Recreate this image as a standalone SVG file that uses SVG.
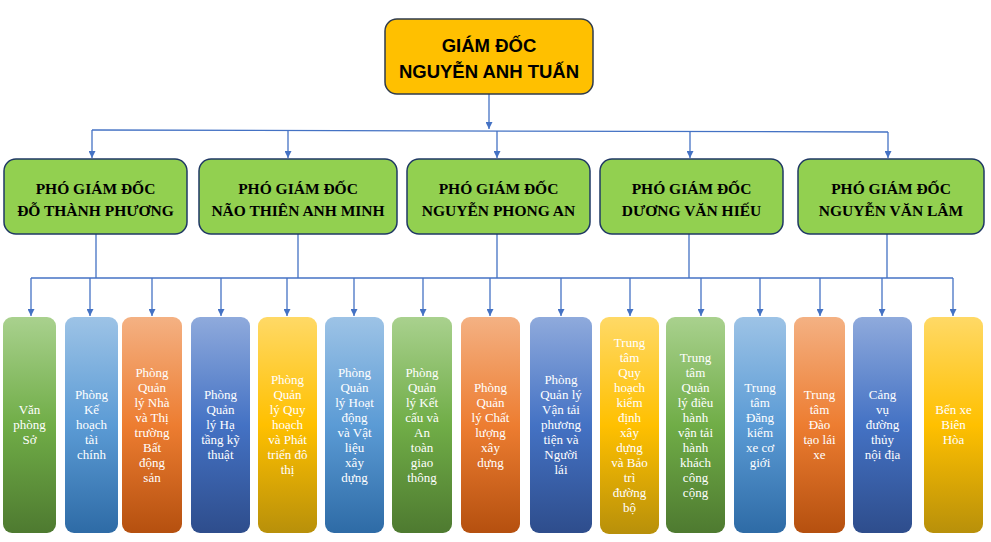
<svg xmlns="http://www.w3.org/2000/svg" width="991" height="542" viewBox="0 0 991 542">
<style>
.conn{stroke:#4472C4;stroke-width:1.3;fill:none}
.arr{marker-end:url(#ah)}
.dir{fill:#FFC000;stroke:#2F3B4C;stroke-width:1.5}
.dirt{font-family:"Liberation Sans",Arial,sans-serif;font-weight:bold;font-size:18.5px;fill:#000;text-anchor:middle}
.dep{fill:#92D050;stroke:#1F3864;stroke-width:1.5}
.dept{font-family:"Liberation Serif","Times New Roman",serif;font-weight:bold;font-size:15.5px;fill:#000;text-anchor:middle}
.unit{font-family:"Liberation Serif","Times New Roman",serif;font-size:13px;fill:#fff;text-anchor:middle}
</style>
<defs>
<marker id="ah" viewBox="0 0 10 10" refX="10" refY="5" markerWidth="7" markerHeight="7" markerUnits="userSpaceOnUse" orient="auto">
<path d="M0,0 L10,5 L0,10 z" fill="#4472C4"/>
</marker>
<linearGradient id="gG" x1="0" y1="0" x2="0" y2="1"><stop offset="0" stop-color="#A9D18E"/><stop offset="0.5" stop-color="#70AD47"/><stop offset="1" stop-color="#4E7A30"/></linearGradient>
<linearGradient id="gL" x1="0" y1="0" x2="0" y2="1"><stop offset="0" stop-color="#9DC3E6"/><stop offset="0.5" stop-color="#5B9BD5"/><stop offset="1" stop-color="#2E6BA6"/></linearGradient>
<linearGradient id="gO" x1="0" y1="0" x2="0" y2="1"><stop offset="0" stop-color="#F4B183"/><stop offset="0.5" stop-color="#ED7D31"/><stop offset="1" stop-color="#B5500F"/></linearGradient>
<linearGradient id="gB" x1="0" y1="0" x2="0" y2="1"><stop offset="0" stop-color="#8FAADC"/><stop offset="0.5" stop-color="#4472C4"/><stop offset="1" stop-color="#2E4D8C"/></linearGradient>
<linearGradient id="gY" x1="0" y1="0" x2="0" y2="1"><stop offset="0" stop-color="#FFD966"/><stop offset="0.5" stop-color="#FFC000"/><stop offset="1" stop-color="#B8900A"/></linearGradient>
</defs>
<rect width="991" height="542" fill="#fff"/>
<g id="connectors">
<path class="conn arr" d="M489,94 V129"/>
<path class="conn" d="M92,130 L888,132"/>
<path class="conn arr" d="M92,130 V158"/>
<path class="conn arr" d="M288,130.5 V158"/>
<path class="conn arr" d="M497,131 V158"/>
<path class="conn arr" d="M690,131.5 V158"/>
<path class="conn arr" d="M888,132 V158"/>
<path class="conn" d="M96,234 V278 M298,234 V278 M497,234 V278 M689,234 V278 M887,234 V278"/>
<path class="conn" d="M31,278 H953"/>
<path class="conn arr" d="M31,278 V316"/>
<path class="conn arr" d="M90,278 V316"/>
<path class="conn arr" d="M152,278 V316"/>
<path class="conn arr" d="M221,278 V316"/>
<path class="conn arr" d="M287,278 V316"/>
<path class="conn arr" d="M354,278 V316"/>
<path class="conn arr" d="M423,278 V316"/>
<path class="conn arr" d="M490,278 V316"/>
<path class="conn arr" d="M561,278 V316"/>
<path class="conn arr" d="M630,278 V316"/>
<path class="conn arr" d="M701,278 V316"/>
<path class="conn arr" d="M760,278 V316"/>
<path class="conn arr" d="M820,278 V316"/>
<path class="conn arr" d="M882,278 V316"/>
<path class="conn arr" d="M953,278 V316"/>
</g>
<g id="director">
<rect class="dir" x="385" y="19" width="208" height="75" rx="12"/>
<text class="dirt" x="489" y="52">GIÁM ĐỐC</text>
<text class="dirt" x="489" y="78">NGUYỄN ANH TUẤN</text>
</g>
<g id="pgd1"><rect class="dep" x="4" y="159" width="183" height="75" rx="12"/><text class="dept" x="95.5" y="194">PHÓ GIÁM ĐỐC</text><text class="dept" x="95.5" y="216">ĐỖ THÀNH PHƯƠNG</text></g>
<g id="pgd2"><rect class="dep" x="199" y="159" width="198" height="75" rx="12"/><text class="dept" x="298" y="194">PHÓ GIÁM ĐỐC</text><text class="dept" x="298" y="216">NÃO THIÊN ANH MINH</text></g>
<g id="pgd3"><rect class="dep" x="407" y="159" width="183" height="75" rx="12"/><text class="dept" x="498.5" y="194">PHÓ GIÁM ĐỐC</text><text class="dept" x="498.5" y="216">NGUYỄN PHONG AN</text></g>
<g id="pgd4"><rect class="dep" x="600" y="159" width="183" height="75" rx="12"/><text class="dept" x="691.5" y="194">PHÓ GIÁM ĐỐC</text><text class="dept" x="691.5" y="216">DƯƠNG VĂN HIẾU</text></g>
<g id="pgd5"><rect class="dep" x="798" y="159" width="186" height="75" rx="12"/><text class="dept" x="891" y="194">PHÓ GIÁM ĐỐC</text><text class="dept" x="891" y="216">NGUYỄN VĂN LÂM</text></g>

<g id="u1"><rect x="3" y="317" width="53" height="216" rx="9" fill="url(#gG)"/><text class="unit" y="414"><tspan x="29.5">Văn</tspan><tspan x="29.5" dy="15">phòng</tspan><tspan x="29.5" dy="15">Sở</tspan></text></g>
<g id="u2"><rect x="65" y="317" width="53" height="216" rx="9" fill="url(#gL)"/><text class="unit" y="399"><tspan x="91.5">Phòng</tspan><tspan x="91.5" dy="15">Kế</tspan><tspan x="91.5" dy="15">hoạch</tspan><tspan x="91.5" dy="15">tài</tspan><tspan x="91.5" dy="15">chính</tspan></text></g>
<g id="u3"><rect x="122" y="317" width="60" height="216" rx="9" fill="url(#gO)"/><text class="unit" y="376.5"><tspan x="152">Phòng</tspan><tspan x="152" dy="15">Quản</tspan><tspan x="152" dy="15">lý Nhà</tspan><tspan x="152" dy="15">và Thị</tspan><tspan x="152" dy="15">trường</tspan><tspan x="152" dy="15">Bất</tspan><tspan x="152" dy="15">động</tspan><tspan x="152" dy="15">sản</tspan></text></g>
<g id="u4"><rect x="191" y="317" width="59" height="216" rx="9" fill="url(#gB)"/><text class="unit" y="399"><tspan x="220.5">Phòng</tspan><tspan x="220.5" dy="15">Quản</tspan><tspan x="220.5" dy="15">lý Hạ</tspan><tspan x="220.5" dy="15">tầng kỹ</tspan><tspan x="220.5" dy="15">thuật</tspan></text></g>
<g id="u5"><rect x="258" y="317" width="59" height="216" rx="9" fill="url(#gY)"/><text class="unit" y="384"><tspan x="287.5">Phòng</tspan><tspan x="287.5" dy="15">Quản</tspan><tspan x="287.5" dy="15">lý Quy</tspan><tspan x="287.5" dy="15">hoạch</tspan><tspan x="287.5" dy="15">và Phát</tspan><tspan x="287.5" dy="15">triển đô</tspan><tspan x="287.5" dy="15">thị</tspan></text></g>
<g id="u6"><rect x="325" y="317" width="59" height="216" rx="9" fill="url(#gL)"/><text class="unit" y="376.5"><tspan x="354.5">Phòng</tspan><tspan x="354.5" dy="15">Quản</tspan><tspan x="354.5" dy="15">lý Hoạt</tspan><tspan x="354.5" dy="15">động</tspan><tspan x="354.5" dy="15">và Vật</tspan><tspan x="354.5" dy="15">liệu</tspan><tspan x="354.5" dy="15">xây</tspan><tspan x="354.5" dy="15">dựng</tspan></text></g>
<g id="u7"><rect x="392" y="317" width="60" height="216" rx="9" fill="url(#gG)"/><text class="unit" y="376.5"><tspan x="422">Phòng</tspan><tspan x="422" dy="15">Quản</tspan><tspan x="422" dy="15">lý Kết</tspan><tspan x="422" dy="15">cấu và</tspan><tspan x="422" dy="15">An</tspan><tspan x="422" dy="15">toàn</tspan><tspan x="422" dy="15">giao</tspan><tspan x="422" dy="15">thông</tspan></text></g>
<g id="u8"><rect x="461" y="317" width="59" height="216" rx="9" fill="url(#gO)"/><text class="unit" y="391.5"><tspan x="490.5">Phòng</tspan><tspan x="490.5" dy="15">Quản</tspan><tspan x="490.5" dy="15">lý Chất</tspan><tspan x="490.5" dy="15">lượng</tspan><tspan x="490.5" dy="15">xây</tspan><tspan x="490.5" dy="15">dựng</tspan></text></g>
<g id="u9"><rect x="530" y="317" width="62" height="216" rx="9" fill="url(#gB)"/><text class="unit" y="384"><tspan x="561">Phòng</tspan><tspan x="561" dy="15">Quản lý</tspan><tspan x="561" dy="15">Vận tải</tspan><tspan x="561" dy="15">phương</tspan><tspan x="561" dy="15">tiện và</tspan><tspan x="561" dy="15">Người</tspan><tspan x="561" dy="15">lái</tspan></text></g>
<g id="u10"><rect x="600" y="317" width="59" height="217" rx="9" fill="url(#gY)"/><text class="unit" y="346.5"><tspan x="629.5">Trung</tspan><tspan x="629.5" dy="15">tâm</tspan><tspan x="629.5" dy="15">Quy</tspan><tspan x="629.5" dy="15">hoạch</tspan><tspan x="629.5" dy="15">kiểm</tspan><tspan x="629.5" dy="15">định</tspan><tspan x="629.5" dy="15">xây</tspan><tspan x="629.5" dy="15">dựng</tspan><tspan x="629.5" dy="15">và Bảo</tspan><tspan x="629.5" dy="15">trì</tspan><tspan x="629.5" dy="15">đường</tspan><tspan x="629.5" dy="15">bộ</tspan></text></g>
<g id="u11"><rect x="666" y="317" width="59" height="216" rx="9" fill="url(#gG)"/><text class="unit" y="361.5"><tspan x="695.5">Trung</tspan><tspan x="695.5" dy="15">tâm</tspan><tspan x="695.5" dy="15">Quản</tspan><tspan x="695.5" dy="15">lý điều</tspan><tspan x="695.5" dy="15">hành</tspan><tspan x="695.5" dy="15">vận tải</tspan><tspan x="695.5" dy="15">hành</tspan><tspan x="695.5" dy="15">khách</tspan><tspan x="695.5" dy="15">công</tspan><tspan x="695.5" dy="15">cộng</tspan></text></g>
<g id="u12"><rect x="734" y="317" width="52" height="216" rx="9" fill="url(#gL)"/><text class="unit" y="391.5"><tspan x="760">Trung</tspan><tspan x="760" dy="15">tâm</tspan><tspan x="760" dy="15">Đăng</tspan><tspan x="760" dy="15">kiểm</tspan><tspan x="760" dy="15">xe cơ</tspan><tspan x="760" dy="15">giới</tspan></text></g>
<g id="u13"><rect x="794" y="317" width="51" height="216" rx="9" fill="url(#gO)"/><text class="unit" y="399"><tspan x="819.5">Trung</tspan><tspan x="819.5" dy="15">tâm</tspan><tspan x="819.5" dy="15">Đào</tspan><tspan x="819.5" dy="15">tạo lái</tspan><tspan x="819.5" dy="15">xe</tspan></text></g>
<g id="u14"><rect x="853" y="317" width="59" height="216" rx="9" fill="url(#gB)"/><text class="unit" y="399"><tspan x="882.5">Cảng</tspan><tspan x="882.5" dy="15">vụ</tspan><tspan x="882.5" dy="15">đường</tspan><tspan x="882.5" dy="15">thủy</tspan><tspan x="882.5" dy="15">nội địa</tspan></text></g>
<g id="u15"><rect x="924" y="317" width="59" height="216" rx="9" fill="url(#gY)"/><text class="unit" y="414"><tspan x="953.5">Bến xe</tspan><tspan x="953.5" dy="15">Biên</tspan><tspan x="953.5" dy="15">Hòa</tspan></text></g>
</svg>
